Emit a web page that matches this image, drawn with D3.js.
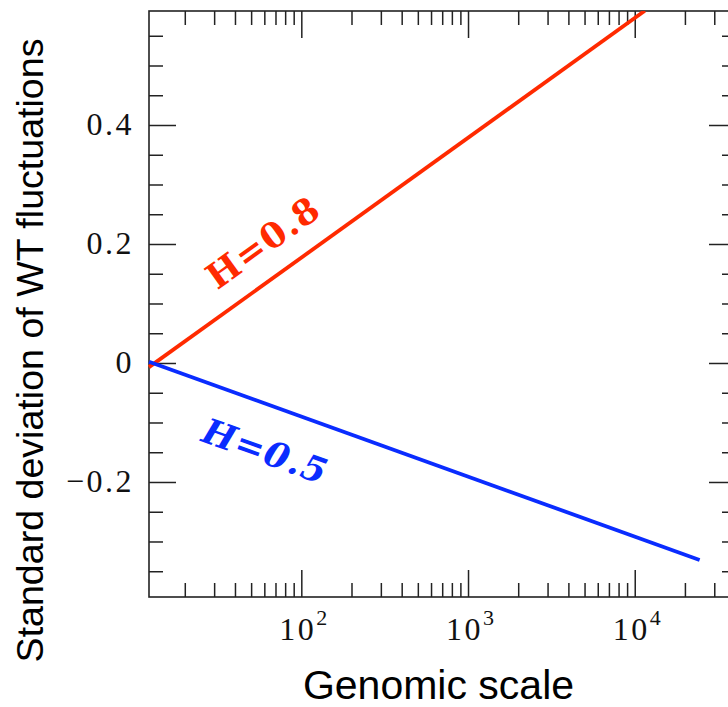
<!DOCTYPE html>
<html>
<head>
<meta charset="utf-8">
<script src="https://cdn.jsdelivr.net/npm/d3@7"></script>
<style>
  html, body { margin: 0; padding: 0; background: #fff; }
  svg { display: block; }
</style>
</head>
<body>
<svg id="chart" width="728" height="707"></svg>
<script>
// ---- data ----
const scalesH08 = [12.2, 11500];      // genomic scale (log axis)
const sdH08 = [-0.007, 0.592];        // standard deviation of WT fluctuations
const scalesH05 = [12.2, 24500];
const sdH05 = [0.002, -0.331];

const xMajorTicks = [100, 1000, 10000];
const xTickExponents = ["2", "3", "4"];
const yMajorTicks = [0.4, 0.2, 0, -0.2];
const yTickLabels = ["0.4", "0.2", "0", "\u22120.2"];
const seriesLabels = ["H=0.8", "H=0.5"];
const labelAnchorScale = [59, 61];   // where each label sits (data coordinates)
const labelAnchorSD = [0.203, -0.148];

const xDomain = [12.2, 40500];
const yDomain = [-0.3933, 0.5916];

// ---- layout ----
const svg = d3.select("#chart");
const pLeft = 149, pTop = 11, pRight = 736, pBottom = 597;
const axisColor = "#222";

const x = d3.scaleLog().domain(xDomain).range([pLeft, pRight]);
const y = d3.scaleLinear().domain(yDomain).range([pBottom, pTop]);

// minor ticks
const xMinor = [];
for (let e = 1; e <= 4; e++) {
  for (let m = 2; m <= 9; m++) {
    const v = m * Math.pow(10, e);
    if (v > xDomain[0] && v < xDomain[1]) xMinor.push(v);
  }
}
const yMinor = d3.range(-0.35, 0.5501, 0.05).map(v => +v.toFixed(2))
  .filter(v => !yMajorTicks.some(t => Math.abs(t - v) < 1e-9));

function styleAxis(g) {
  g.select(".domain").remove();
  g.selectAll(".tick line").attr("stroke", axisColor).attr("stroke-width", 1.5);
  g.selectAll(".tick text").remove();
}

// bottom axis ticks (inward)
svg.append("g").attr("transform", `translate(0,${pBottom})`)
  .call(d3.axisBottom(x).tickValues(xMajorTicks).tickSize(-27).tickFormat("")).call(styleAxis);
svg.append("g").attr("transform", `translate(0,${pBottom})`)
  .call(d3.axisBottom(x).tickValues(xMinor).tickSize(-14).tickFormat("")).call(styleAxis);
// top axis ticks (inward)
svg.append("g").attr("transform", `translate(0,${pTop})`)
  .call(d3.axisTop(x).tickValues(xMajorTicks).tickSize(-27).tickFormat("")).call(styleAxis);
svg.append("g").attr("transform", `translate(0,${pTop})`)
  .call(d3.axisTop(x).tickValues(xMinor).tickSize(-14).tickFormat("")).call(styleAxis);
// left axis ticks (inward)
svg.append("g").attr("transform", `translate(${pLeft},0)`)
  .call(d3.axisLeft(y).tickValues(yMajorTicks).tickSize(-27).tickFormat("")).call(styleAxis);
svg.append("g").attr("transform", `translate(${pLeft},0)`)
  .call(d3.axisLeft(y).tickValues(yMinor).tickSize(-14).tickFormat("")).call(styleAxis);
// right axis ticks (inward)
svg.append("g").attr("transform", `translate(${pRight},0)`)
  .call(d3.axisRight(y).tickValues(yMajorTicks).tickSize(-27).tickFormat("")).call(styleAxis);
svg.append("g").attr("transform", `translate(${pRight},0)`)
  .call(d3.axisRight(y).tickValues(yMinor).tickSize(-14).tickFormat("")).call(styleAxis);

// frame
svg.append("rect")
  .attr("x", pLeft).attr("y", pTop)
  .attr("width", pRight - pLeft).attr("height", pBottom - pTop)
  .attr("fill", "none").attr("stroke", axisColor).attr("stroke-width", 1.6);

// tick labels
const tickFont = "'Liberation Serif', 'Times New Roman', serif";
svg.append("g").selectAll("text").data(yMajorTicks).join("text")
  .attr("x", 134)
  .attr("y", d => y(d) + 10)
  .attr("text-anchor", "end")
  .attr("font-family", tickFont)
  .attr("font-size", 32)
  .attr("letter-spacing", 2.5)
  .attr("fill", "#111")
  .text((d, i) => yTickLabels[i]);

const xl = svg.append("g").selectAll("text").data(xMajorTicks).join("text")
  .attr("x", d => x(d) - 22)
  .attr("y", 640)
  .attr("text-anchor", "start")
  .attr("font-family", tickFont)
  .attr("font-size", 32)
  .attr("letter-spacing", 2.5)
  .attr("fill", "#111");
xl.append("tspan").text("10");
xl.append("tspan").attr("dy", -15).attr("font-size", 22).attr("letter-spacing", 0)
  .text((d, i) => xTickExponents[i]);

// lines
const clipId = "plotclip";
svg.append("clipPath").attr("id", clipId).append("rect")
  .attr("x", pLeft - 3).attr("y", pTop).attr("width", pRight - pLeft + 3).attr("height", pBottom - pTop);

const line = d3.line().x(d => x(d[0])).y(d => y(d[1]));
const series = [
  { xs: scalesH08, ys: sdH08, color: "#ff2a00" },
  { xs: scalesH05, ys: sdH05, color: "#0a2cff" }
];
series.forEach(s => {
  svg.append("path")
    .datum(s.xs.map((v, i) => [v, s.ys[i]]))
    .attr("d", line)
    .attr("fill", "none")
    .attr("stroke", s.color)
    .attr("stroke-width", 3.8)
    .attr("clip-path", `url(#${clipId})`);
});

// series labels, rotated along their lines
series.forEach((s, i) => {
  const dx = x(s.xs[1]) - x(s.xs[0]);
  const dy = y(s.ys[1]) - y(s.ys[0]);
  const ang = Math.atan2(dy, dx) * 180 / Math.PI;
  const cx = x(labelAnchorScale[i]), cy = y(labelAnchorSD[i]);
  svg.append("text")
    .attr("transform", `translate(${cx},${cy}) rotate(${ang})`)
    .attr("text-anchor", "middle")
    .attr("dominant-baseline", "central")
    .attr("font-family", "'DejaVu Serif', serif")
    .attr("font-weight", "bold")
    .attr("font-style", i === 1 ? "italic" : "normal")
    .attr("font-size", 35)
    .attr("letter-spacing", 1.5)
    .attr("fill", s.color)
    .text(seriesLabels[i]);
});

// axis titles
svg.append("text")
  .attr("x", 438.5).attr("y", 699)
  .attr("text-anchor", "middle")
  .attr("font-family", "'Liberation Sans', Arial, sans-serif")
  .attr("font-size", 41)
  .attr("fill", "#000")
  .text("Genomic scale");

svg.append("text")
  .attr("transform", "translate(43,350.5) rotate(-90)")
  .attr("text-anchor", "middle")
  .attr("font-family", "'Liberation Sans', Arial, sans-serif")
  .attr("font-size", 37.6)
  .attr("fill", "#000")
  .text("Standard deviation of WT fluctuations");
</script>
</body>
</html>
